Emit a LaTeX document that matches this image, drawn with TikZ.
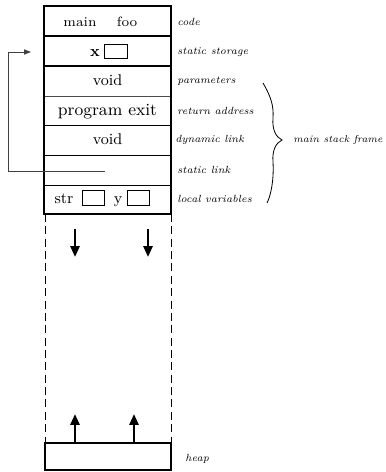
\documentclass[tikz,border=0pt]{standalone}
\usetikzlibrary{arrows.meta}
\begin{document}
\begin{tikzpicture}[x=0.55pt,y=-0.55pt,
  boxtext/.style={font=\fontsize{8.6}{10}\selectfont, inner sep=0pt, text height=1.5ex, text depth=0.3ex},
  lbl/.style={font=\fontsize{5.7}{7}\selectfont\itshape, anchor=west, inner sep=0pt},
  cell/.style={draw, line width=0.45pt, minimum width=12pt, minimum height=8pt, inner sep=0pt},
  frame/.style={line width=1.6pt},
  sep/.style={line width=0.5pt},
  growarrow/.style={line width=1.3pt, -{Triangle[length=6pt,width=5pt]}},
  linkarrow/.style={line width=0.5pt, draw=black!75, -{Triangle[length=3.8pt,width=2.8pt]}}]
\useasboundingbox (0,0) rectangle (385,472);
% row separators
\draw[line width=0.9pt] (44,36) -- (171,36);
\draw[line width=1.3pt] (44,66) -- (171,66);
\draw[sep, draw=black!70] (44,96) -- (171,96);
\draw[sep] (44,125) -- (171,125);
\draw[sep] (44,155) -- (171,155);
\draw[sep] (44,185) -- (171,185);
% outer frame
\draw[frame] (44,6) rectangle (171,214);
% texts in rows
\node[boxtext, font=\fontsize{7.4}{9}\selectfont] (main) at (80,22) {main};
\node[boxtext, font=\fontsize{7.4}{9}\selectfont] (foo) at (127,22) {foo};
\node[boxtext, font=\fontsize{8.6}{10}\selectfont\bfseries] (x) at (95,52) {x};
\node[cell, minimum width=12.6pt] (xbox) at (115.5,51.5) {};
\node[boxtext] (par) at (107.5,81) {void};
\node[boxtext, font=\fontsize{9.4}{11}\selectfont] (ret) at (107.5,111) {program exit};
\node[boxtext] (dyn) at (107.5,140) {void};
\node[boxtext] (str) at (64,199) {str};
\node[cell] (strbox) at (93,198) {};
\node[boxtext] (y) at (118,199) {y};
\node[cell] (ybox) at (138,198) {};
% labels
\node[lbl] (lcode) at (177,22) {code};
\node[lbl] (lstat) at (177,52) {static storage};
\node[lbl] (lpar) at (177,81) {parameters};
\node[lbl] (lret) at (177,111) {return address};
\node[lbl] (ldyn) at (175,140) {dynamic link};
\node[lbl] (lsl) at (177,170) {static link};
\node[lbl] (lloc) at (177,199) {local variables};
\node[lbl, font=\fontsize{5.5}{7}\selectfont\itshape] (lframe) at (293,140) {main stack frame};
% brace
\draw[line width=0.45pt] (263,83) .. controls (270,95) and (274,105) .. (273,118)
  .. controls (272,130) and (276,137) .. (282,140)
  .. controls (276,143) and (272,150) .. (273,162)
  .. controls (274,180) and (271,195) .. (267,203);
% static link arrow
\coordinate (slstart) at (105,171);
\coordinate (sltarget) at (31,52);
\draw[linkarrow] (slstart) -- (8,171) -- (8,52) -- (sltarget);
% dashed free region
\draw[line width=0.5pt, dash pattern=on 4.4pt off 2.4pt] (45,214) -- (45,442);
\draw[line width=0.5pt, dash pattern=on 4.4pt off 2.4pt] (171,214) -- (171,442);
% heap
\draw[frame] (45,443) rectangle (171,470);
\node[lbl] (lheap) at (185,459) {heap};
% growth arrows
\coordinate (d1s) at (75,229); \coordinate (d1e) at (75,257);
\coordinate (d2s) at (148,229); \coordinate (d2e) at (148,257);
\coordinate (u1s) at (75,442); \coordinate (u1e) at (75,414);
\coordinate (u2s) at (134,442); \coordinate (u2e) at (134,414);
\draw[growarrow] (d1s) -- (d1e);
\draw[growarrow] (d2s) -- (d2e);
\draw[growarrow] (u1s) -- (u1e);
\draw[growarrow] (u2s) -- (u2e);
\end{tikzpicture}
\end{document}
